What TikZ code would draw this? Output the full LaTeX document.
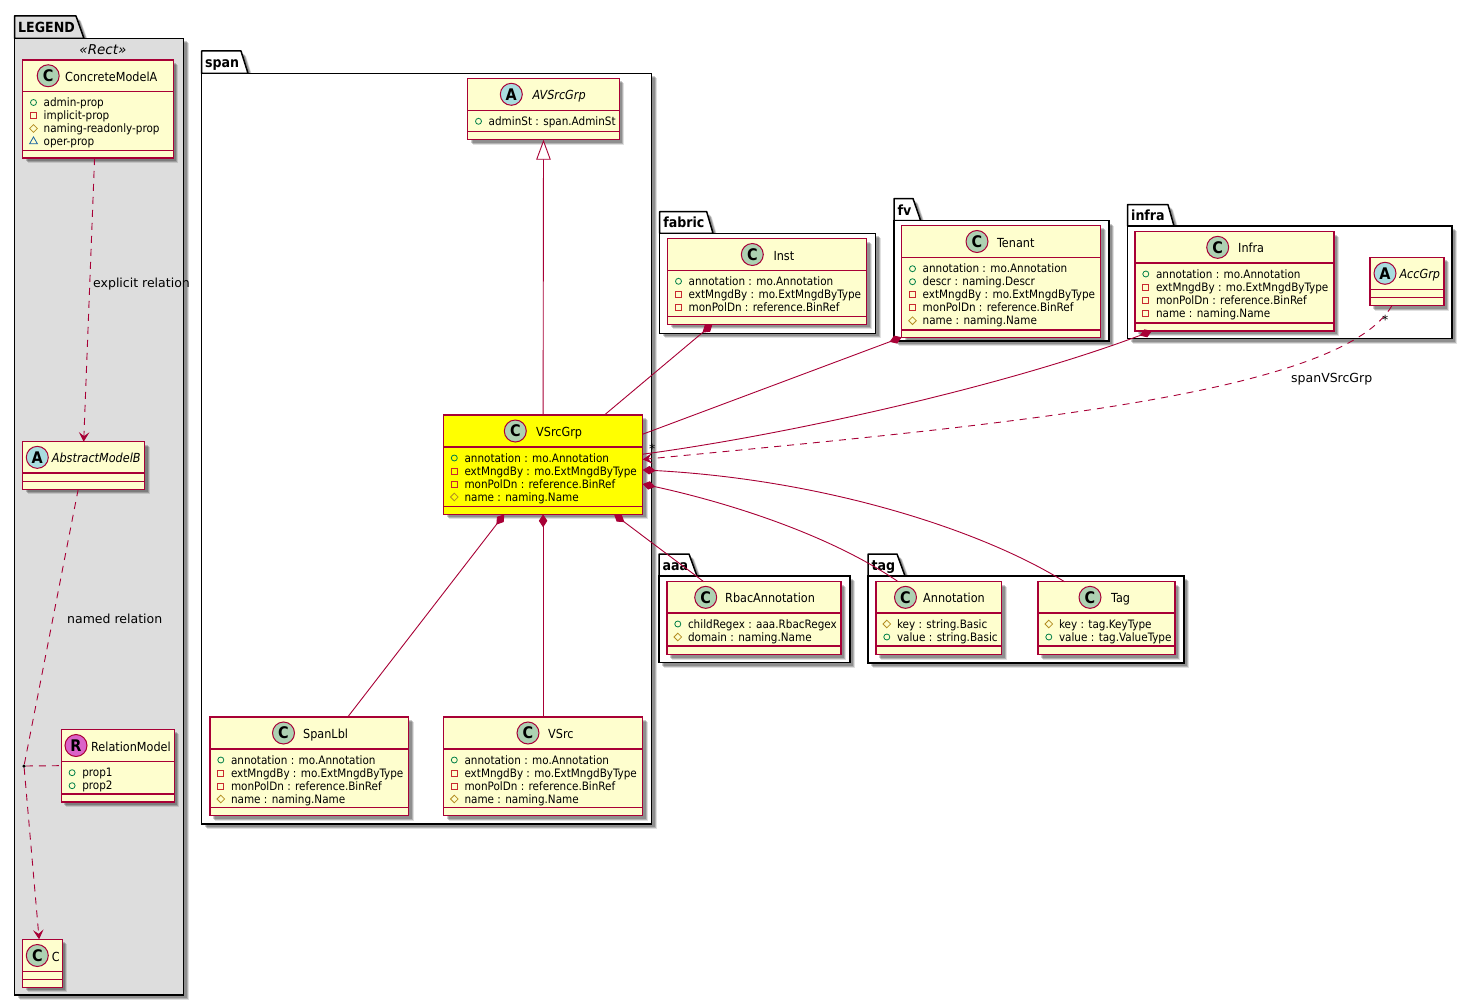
\documentclass[tikz,border=0pt]{standalone}
\usepackage{fontspec}
\setmainfont{DejaVu Sans Condensed}[BoldFont={DejaVu Sans Condensed Bold},ItalicFont={DejaVu Sans Condensed Oblique},BoldItalicFont={DejaVu Sans Condensed Bold Oblique}]
\newfontfamily\labelfont{DejaVu Sans}[ItalicFont={DejaVu Sans Oblique}]
\usetikzlibrary{arrows.meta,shadows,shapes.geometric}

\definecolor{umlred}{HTML}{A80036}
\definecolor{umlfill}{HTML}{FEFECE}
\definecolor{umlyellow}{HTML}{FFFF00}
\definecolor{spotc}{HTML}{ADD1B2}
\definecolor{spota}{HTML}{A9DCDF}
\definecolor{spotr}{HTML}{DA62C8}
\definecolor{legendgrey}{HTML}{DDDDDD}
\definecolor{iconpub}{HTML}{038048}
\definecolor{iconpriv}{HTML}{C82930}
\definecolor{iconprot}{HTML}{B38D22}
\definecolor{iconpkg}{HTML}{1963A0}

\tikzset{
    umlshadow/.style={
        drop shadow={shadow xshift=5pt,shadow yshift=-5pt,fill=black,opacity=.12},
        drop shadow={shadow xshift=4pt,shadow yshift=-4pt,fill=black,opacity=.2},
        drop shadow={shadow xshift=3pt,shadow yshift=-3pt,fill=black,opacity=.2}},
    classbox/.style={draw=umlred,line width=1.3pt,fill=umlfill,rectangle,inner sep=0pt,outer sep=0pt,umlshadow},
    classline/.style={draw=umlred,line width=1.3pt},
    pkgbox/.style={draw=black,line width=1.5pt,rectangle,inner sep=0pt,outer sep=0pt,umlshadow},
    pkgtab/.style={draw=black,line width=1.5pt,line join=round,umlshadow},
    pkgtitle/.style={anchor=base west,inner sep=0pt,font=\fontsize{14}{16}\selectfont\bfseries},
    spot/.style={circle,draw=umlred,line width=1pt,minimum size=22pt,inner sep=0pt,font=\fontsize{16}{16}\selectfont\bfseries},
    classtitle/.style={anchor=base west,inner sep=0pt,font=\fontsize{12.5}{14}\selectfont},
    member/.style={anchor=base west,inner sep=0pt,font=\fontsize{11.6}{13}\selectfont},
    pub/.style={circle,draw=iconpub,line width=.8pt,minimum size=6pt,inner sep=0pt},
    priv/.style={rectangle,draw=iconpriv,line width=.8pt,minimum size=6pt,inner sep=0pt},
    prot/.style={diamond,draw=iconprot,line width=.8pt,minimum size=8pt,inner sep=0pt},
    pkg/.style={regular polygon,regular polygon sides=3,draw=iconpkg,line width=.8pt,minimum size=9pt,inner sep=0pt},
    assoc/.style={draw=umlred,line width=.9pt},
    depend/.style={assoc,dash pattern=on 7pt off 6pt},
    owns/.style={{Diamond[length=13pt,width=8.5pt,fill=umlred]}-},
    barb/.style={-{Stealth[length=9.5pt,width=10.5pt,inset=4pt]}},
    inherit/.style={{Triangle[open,length=20pt,width=14.5pt,fill=white]}-},
    edgelabel/.style={inner sep=0pt,anchor=base west,font=\labelfont\fontsize{12.5}{14}\selectfont},
    reldot/.style={circle,fill=black,inner sep=0pt,minimum size=3.5pt}
}

% package: id, x1, tab top, tab right top, tab right bottom, body top, x2, y2, colour
\newcommand{\umlpackage}[9]{
    \draw[pkgtab,fill=#9] (#2,#6) -- (#2,#3) -- (#4,#3) -- (#5,#6) -- cycle;
    \node[pkgbox,fill=#9,minimum width={(#7-#2)*1pt},minimum height={(#8-#6)*1pt}] (#1) at ({(#2+#7)/2},{(#6+#8)/2}) {};
    \node[pkgtitle] (#1-title) at (#2+3.5,#6-5.5) {#1};
}

% class box: options, id, x1, y1, x2, y2, head line, lower line
\newcommand{\umlclass}[8][]{
    \gdef\umlhead{#7}
    \node[classbox,#1,minimum width={(#5-#3)*1pt},minimum height={(#6-#4)*1pt}] (#2) at ({(#3+#5)/2},{(#4+#6)/2}) {};
    \draw[classline] (#3,#4+#7) -- (#5,#4+#7);
    \draw[classline] (#3,#4+#8) -- (#5,#4+#8);
}

% head of a class: font, id, letter, colour, spot x, title x
\newcommand{\umltitle}[6][]{
    \begin{scope}[shift={(#2.north west)}]
        \node[spot,fill=#4] (#2-spot) at (#5,\umlhead/2) {#3};
        \node[classtitle] (#2-title) at (#6,\umlhead/2+5.5) {#1#2};
    \end{scope}
}

% member lines: id, list of kind/text
\newcommand{\umlmembers}[2]{
    \begin{scope}[shift={(#1.north west)}]
        \foreach \kind/\txt [count=\i] in {#2} {
            \node[\kind] (#1-icon-\i) at (10.8,\umlhead+11+13*\i-13) {};
            \node[member] (#1-text-\i) at (20.8,\umlhead+15+13*\i-13) {\txt};
        }
    \end{scope}
}

\begin{document}
\begin{tikzpicture}[x=1pt,y=-1pt]
    \useasboundingbox (0,0) rectangle (1473,1006);

    % draw packages
    \umlpackage{LEGEND}{14.5}{16}{76}{84}{38.5}{183.5}{995}{legendgrey}
    \umlpackage{span}{201.5}{51}{241}{248}{73.3}{651.7}{824}{white}
    \umlpackage{fabric}{659.7}{211.7}{706.7}{713}{233.3}{875.7}{333.3}{white}
    \umlpackage{fv}{894}{198.5}{913}{920.7}{220.7}{1109}{341}{white}
    \umlpackage{infra}{1127.5}{204.7}{1168}{1174}{226}{1452}{338.7}{white}
    \umlpackage{aaa}{659}{554}{689}{697}{576}{850}{662.7}{white}
    \umlpackage{tag}{868}{554}{897}{905}{576}{1184}{663}{white}
    \node[inner sep=0pt,anchor=base,font=\labelfont\fontsize{13.5}{15}\selectfont\itshape] (legendstereo) at (103,54.5) {«Rect»};

    % draw legend classes
    \umlclass{ConcreteModelA}{22.7}{60}{173.3}{158}{31.5}{90.7}
    \umltitle{ConcreteModelA}{C}{spotc}{25.5}{42.3}
    \umlmembers{ConcreteModelA}{pub/admin-prop,priv/implicit-prop,prot/naming-readonly-prop,pkg/oper-prop}

    \umlclass{AbstractModelB}{22.7}{441.7}{144.7}{489.3}{31.3}{39.6}
    \umltitle[\itshape]{AbstractModelB}{A}{spota}{14.6}{29}

    \umlclass{RelationModel}{61.3}{729.3}{174.3}{802}{32.4}{64.7}
    \umltitle{RelationModel}{R}{spotr}{14.7}{29.7}
    \umlmembers{RelationModel}{pub/prop1,pub/prop2}

    \umlclass{C}{22.7}{939.3}{62.3}{987.3}{32.4}{40.4}
    \umltitle{C}{C}{spotc}{14.6}{29}

    % draw span classes
    \umlclass{AVSrcGrp}{467.7}{78.3}{619.3}{139.7}{32}{53}
    \umltitle[\itshape]{AVSrcGrp}{A}{spota}{43.6}{64.6}
    \umlmembers{AVSrcGrp}{pub/adminSt : span.AdminSt}

    \umlclass[fill=umlyellow]{VSrcGrp}{443.5}{415}{642.7}{514.3}{32}{91.7}
    \umltitle{VSrcGrp}{C}{spotc}{71.8}{92.5}
    \umlmembers{VSrcGrp}{pub/annotation : mo.Annotation,priv/extMngdBy : mo.ExtMngdByType,priv/monPolDn : reference.BinRef,prot/name : naming.Name}

    \umlclass{SpanLbl}{210}{717}{408.5}{815.5}{32}{90.3}
    \umltitle{SpanLbl}{C}{spotc}{73.5}{93}
    \umlmembers{SpanLbl}{pub/annotation : mo.Annotation,priv/extMngdBy : mo.ExtMngdByType,priv/monPolDn : reference.BinRef,prot/name : naming.Name}

    \umlclass{VSrc}{443.5}{717}{642.7}{815.5}{32}{90.3}
    \umltitle{VSrc}{C}{spotc}{84.5}{104.5}
    \umlmembers{VSrc}{pub/annotation : mo.Annotation,priv/extMngdBy : mo.ExtMngdByType,priv/monPolDn : reference.BinRef,prot/name : naming.Name}

    % draw classes of the other packages
    \umlclass{Inst}{667.7}{238.7}{866.7}{324.3}{31.6}{78}
    \umltitle{Inst}{C}{spotc}{84.6}{105.6}
    \umlmembers{Inst}{pub/annotation : mo.Annotation,priv/extMngdBy : mo.ExtMngdByType,priv/monPolDn : reference.BinRef}

    \umlclass{Tenant}{901.7}{225.3}{1100.7}{337.3}{32.4}{104.7}
    \umltitle{Tenant}{C}{spotc}{75.3}{95.3}
    \umlmembers{Tenant}{pub/annotation : mo.Annotation,pub/descr : naming.Descr,priv/extMngdBy : mo.ExtMngdByType,priv/monPolDn : reference.BinRef,prot/name : naming.Name}

    \umlclass{Infra}{1135}{231.7}{1334}{331}{31.3}{91.3}
    \umltitle{Infra}{C}{spotc}{82.7}{103}
    \umlmembers{Infra}{pub/annotation : mo.Annotation,priv/extMngdBy : mo.ExtMngdByType,priv/monPolDn : reference.BinRef,priv/name : naming.Name}

    \umlclass{AccGrp}{1370}{257.3}{1444}{305.7}{32}{40.4}
    \umltitle[\itshape]{AccGrp}{A}{spota}{15}{29.3}

    \umlclass{RbacAnnotation}{667}{581.7}{841}{654.7}{31.3}{64.3}
    \umltitle{RbacAnnotation}{C}{spotc}{38.7}{58}
    \umlmembers{RbacAnnotation}{pub/childRegex : aaa.RbacRegex,prot/domain : naming.Name}

    \umlclass{Annotation}{876}{581.7}{1001.5}{654.7}{31.3}{64.3}
    \umltitle{Annotation}{C}{spotc}{29.5}{47}
    \umlmembers{Annotation}{prot/key : string.Basic,pub/value : string.Basic}

    \umlclass{Tag}{1038}{581.7}{1175}{654.7}{31.3}{64.3}
    \umltitle{Tag}{C}{spotc}{52}{73}
    \umlmembers{Tag}{prot/key : tag.KeyType,pub/value : tag.ValueType}

    % draw legend relations
    \node[reldot] (relpoint) at (24,766) {};
    \draw[depend,barb] (ConcreteModelA.-94.7) -- (AbstractModelB.north);
    \draw[depend] (AbstractModelB.-103.5) -- (relpoint);
    \draw[depend,barb] (relpoint) -- (C.98.3);
    \draw[depend] (relpoint) -- (RelationModel.west);
    \node[edgelabel] (explicitlabel) at (93,287) {explicit relation};
    \node[edgelabel] (namedlabel) at (67,623) {named relation};

    % draw span relations
    \draw[assoc,inherit] (AVSrcGrp.south) -- (VSrcGrp.north);
    \draw[assoc,owns] (VSrcGrp.-128.9) -- (SpanLbl.52.4);
    \draw[assoc,owns] (VSrcGrp.south) -- (VSrc.north);
    \draw[assoc,owns] (VSrcGrp.-35.8) -- (RbacAnnotation.144.6);
    \draw[assoc,owns] (VSrcGrp.-11) .. controls (730,503) and (830,535) .. (Annotation.138.1);
    \draw[assoc,owns] (VSrcGrp.-3.6) .. controls (830,480) and (985,532) .. (Tag.139.3);
    \draw[assoc,owns] (Inst.-142.2) -- (VSrcGrp.39.2);
    \draw[assoc,owns] (Tenant.south west) -- (VSrcGrp.17.1);
    \draw[assoc,owns] (Infra.-149.8) .. controls (1000,388) and (780,436) .. (VSrcGrp.6.7);
    \draw[depend,barb] (AccGrp.-122.3) .. controls (1340,395) and (1000,425) .. (VSrcGrp.3.1);
    \node[edgelabel] (spanlabel) at (1291,382) {spanVSrcGrp};
    \node[edgelabel] (staracc) at (1382,324) {*};
    \node[edgelabel] (starsrc) at (649,453) {*};
\end{tikzpicture}
\end{document}
